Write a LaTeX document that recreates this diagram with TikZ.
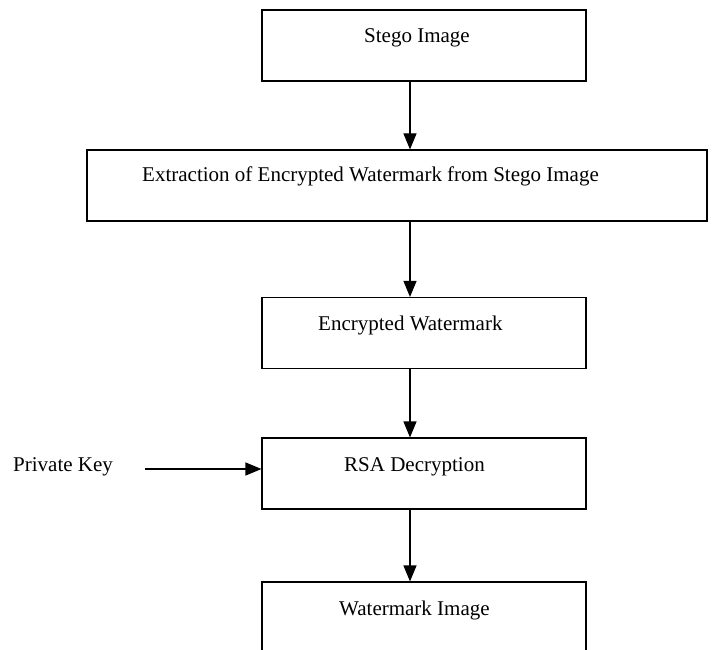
\documentclass[tikz,border=0pt]{standalone}
\usepackage{fontspec}
\setmainfont{Liberation Serif}
\usetikzlibrary{arrows.meta}
\begin{document}
\begin{tikzpicture}[x=1pt,y=-1pt]
	\tikzset{
		stage/.style={draw,line width=1.1pt,inner sep=0pt,minimum height=71pt,minimum width=324pt},
		flow/.style={line width=1.1pt,-{Triangle[length=16pt,width=13pt]}},
		caption/.style={anchor=base west,inner sep=0pt,font=\fontsize{21}{25}\selectfont}
	}
	\useasboundingbox (0,0) rectangle (721,650);
	\clip (0,0) rectangle (721,650);
	\path
	(410,0) coordinate (axis)
	(145,469) coordinate (keyTail);
	\node[stage] (stego) at (424,45.5) {};
	\node[stage,minimum width=620pt] (extract) at (397,185.5) {};
	\node[stage] (enc) at (424,333) {};
	\node[stage] (rsa) at (424,473.5) {};
	\node[stage] (mark) at (424,617.5) {};
	\foreach \p/\x/\y/\text in {
		stego/364/43/Stego Image,
		extract/142/182/Extraction of Encrypted Watermark from Stego Image,
		enc/318/330/Encrypted Watermark,
		rsa/344/471/RSA Decryption,
		mark/339/615/Watermark Image,
		key/13/471/Private Key
	}{
		\node[caption] (\p Txt) at (\x,\y) {\text};
	}
	\draw[flow] (stego.south -| axis) -- (extract.north -| axis);
	\draw[flow] (extract.south -| axis) -- (enc.north -| axis);
	\draw[flow] (enc.south -| axis) -- (rsa.north -| axis);
	\draw[flow] (rsa.south -| axis) -- (mark.north -| axis);
	\draw[flow] (keyTail) -- (keyTail -| rsa.west);
\end{tikzpicture}
\end{document}
